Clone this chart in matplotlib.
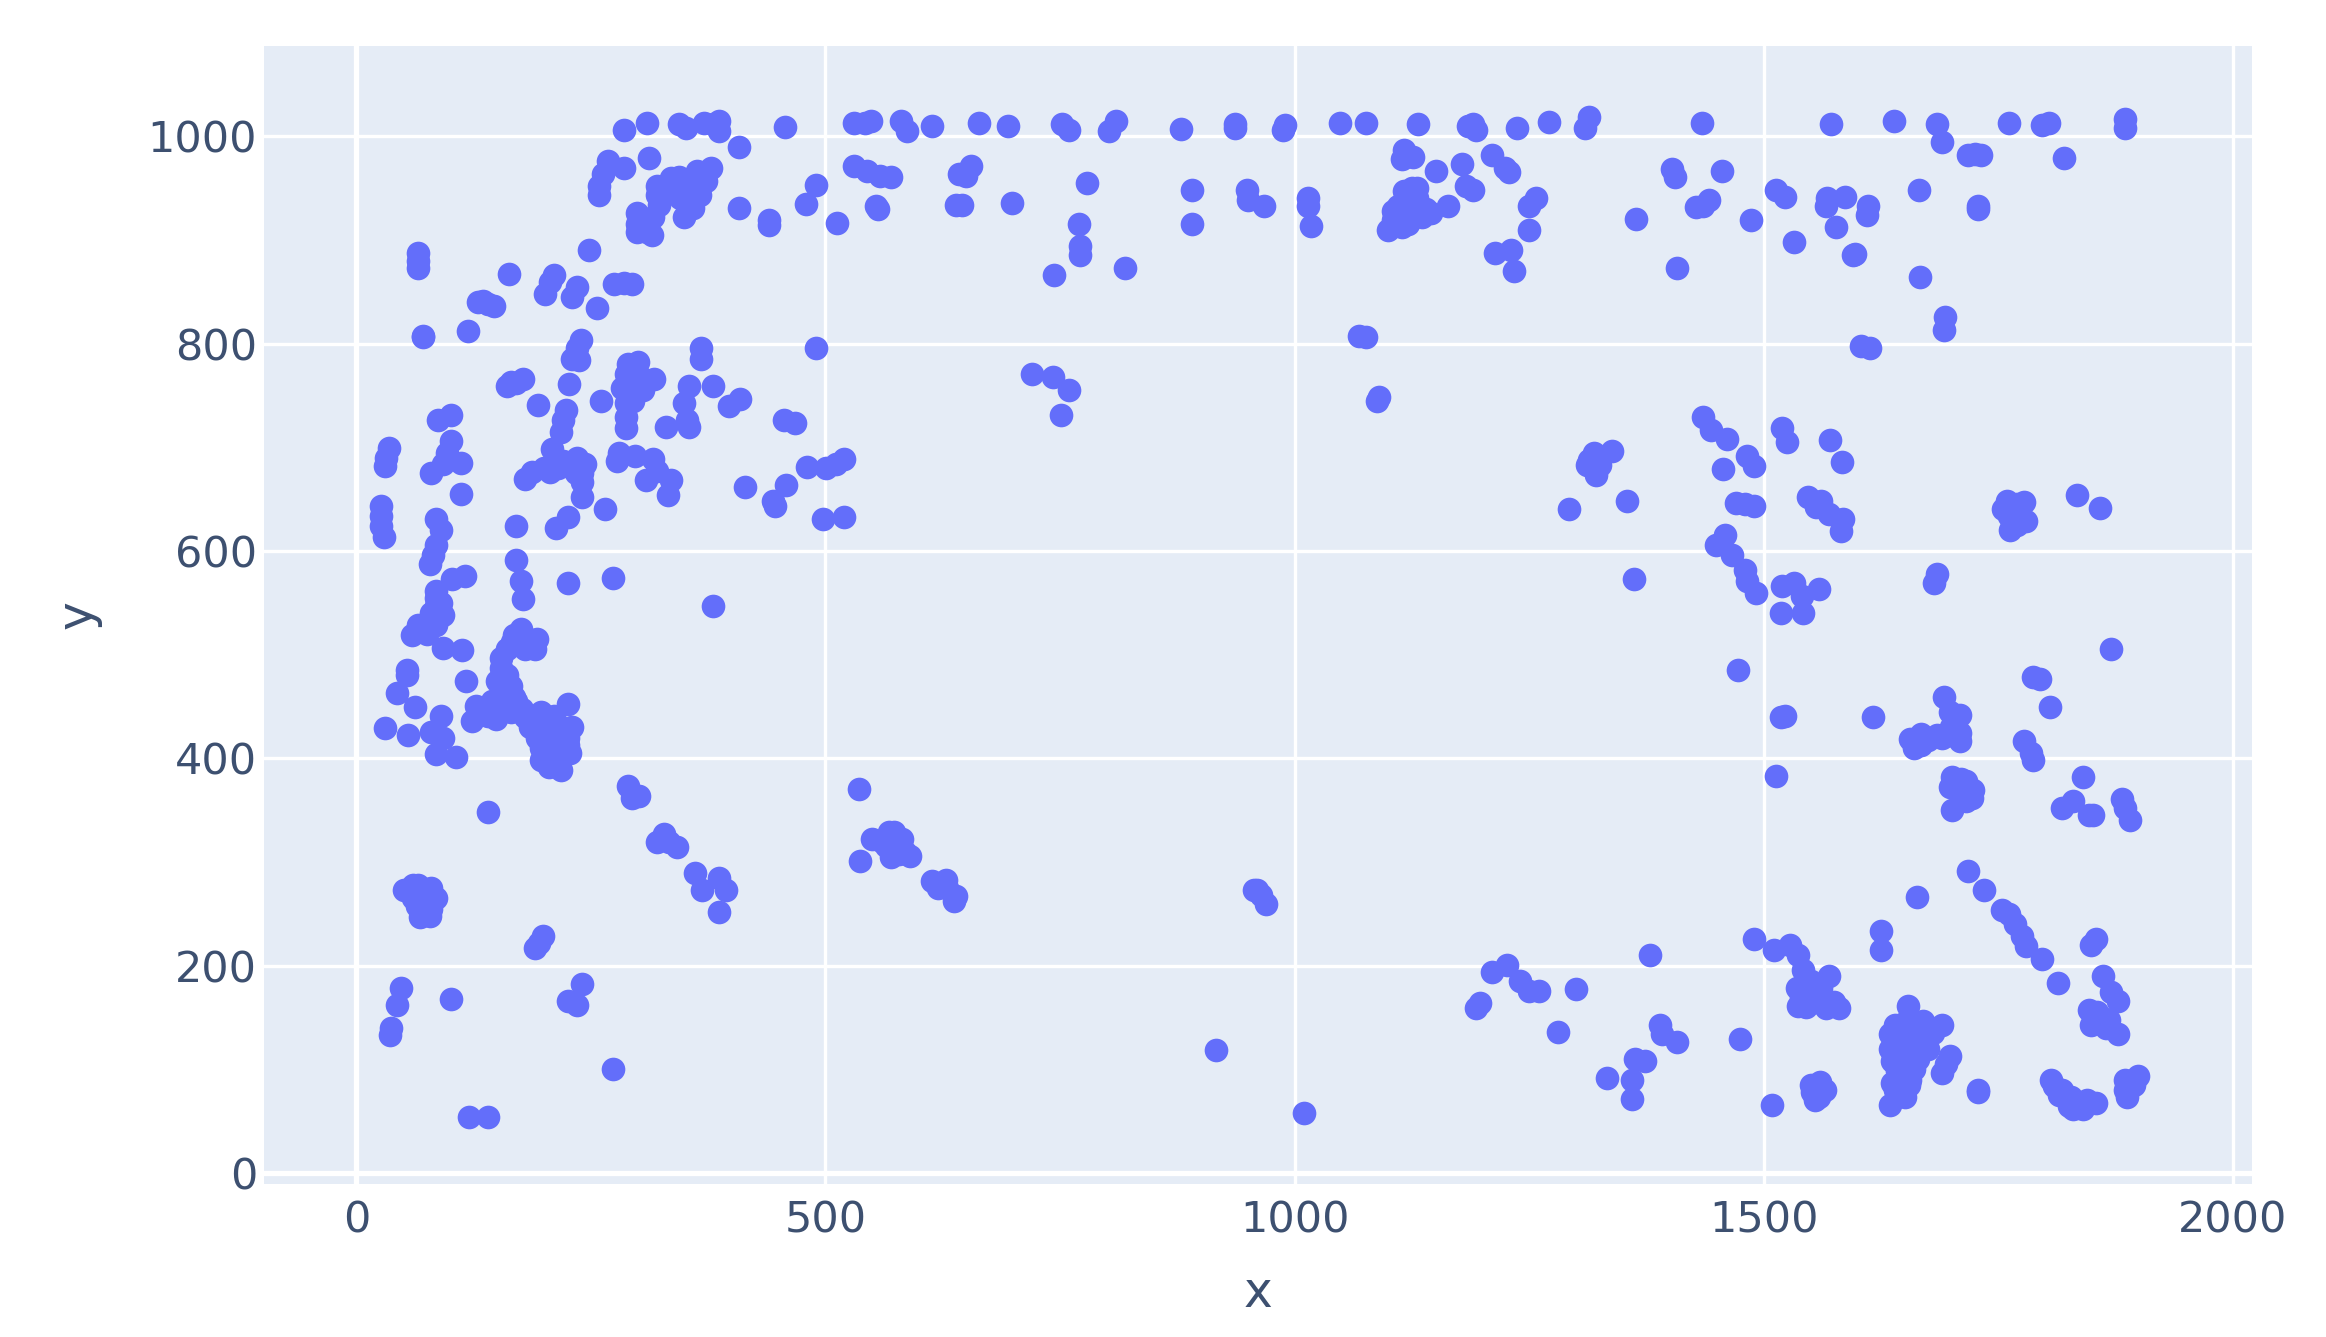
import matplotlib
matplotlib.use('Agg')
import matplotlib.pyplot as plt

# points, in data units, by region
top_row = [(285,1006),(310,1013),(344,1012),(351,1008),(370,1013),(387,1015),(387,1005),(380,1012),(408,990),
	(457,1009),(530,1013),(542,1013),(549,1015),(580,1015),(587,1005),(613,1010),(664,1013),(694,1010),
	(752,1012),(760,1006),(810,1015),(802,1005),(879,1007),(937,1012),(937,1008),(990,1011),(988,1006),
	(1048,1013),(1076,1013),(1132,1012),(1190,1012),(1193,1006),(1185,1010),(1237,1008),(1271,1014),
	(1314,1019),(1310,1008),(1434,1013),(1572,1012),(1639,1015),(1685,1012),(1690,994),(1718,982),(1732,982),
	(1725,983),(1761,1013),(1797,1011),(1804,1013),(1885,1017),(1885,1008),(1820,979)]

upper_left = [(268,976),(285,969),(263,964),(259,952),(259,943),(312,979),(378,969),(363,966),(344,961),
	(320,952),(320,943),(359,954),(373,957),(366,943),(323,934),(349,922),(359,931),(299,926),(299,915),
	(299,908),(315,905),(311,915),(316,922),(408,931),(440,919),(440,914),(490,953),(479,935),(512,916),
	(530,971),(544,966),(558,962),(570,961),(554,933),(556,930),(642,964),(650,962),(655,971),(639,934),(645,934),
	(248,890),(66,887),(66,880),(66,873),(163,867),(211,866),(201,848),(206,859),(235,855),(230,845),(256,834),
	(275,857),(294,857),(285,858),(135,841),(147,836),(140,838),(130,840),(71,807),(71,806),(119,812),
	(239,803),(235,796),(230,785),(237,784),(367,796),(367,785),(490,796),(170,762),(161,759),(178,766),(165,763),
	(227,761),(194,741),(223,736),(220,726),(218,715),(261,745),(300,782),(287,771),(300,771),(317,766),(283,757),
	(300,757),(287,743),(287,729),(287,719),(354,759),(380,759),(349,743),(352,726),(330,720),(354,720),
	(409,747),(397,740),(456,726),(468,723),(101,731),(87,726),(101,706),(97,694),(111,685),(80,675),(92,684),
	(35,699),(30,682),(32,690),(112,655),(26,643),(26,634),(26,624),(29,613),(85,631),(90,620),(85,606),(78,587),(82,596),
	(170,624),(213,622),(225,633),(240,652),(240,666),(244,684),(234,675),(265,640),(209,698),(187,676),(180,669),
	(206,676),(220,687),(230,680),(280,694),(278,687),(297,692),(316,689),(309,668),(320,677),(335,668),(332,654),
	(414,662),(458,664),(444,648),(446,643),(480,681),(501,680),(520,689),(511,684),(497,631),(520,633),
	(170,591),(175,571),(178,554),(225,569),(274,574),(380,547),
	(330,950),(340,955),(350,950),(345,940),(335,960),(305,920),(310,908),(200,680),(215,680),(235,690),(240,675),
	(295,765),(305,755),(295,745),(290,780)]

lower_left = [(116,576),(102,573),(85,561),(85,547),(66,529),(59,519),(78,533),(92,538),(85,529),(92,506),(113,504),
	(54,485),(54,480),(43,463),(62,449),(117,475),(30,429),(55,422),(90,441),(80,425),(92,420),(85,404),(106,401),
	(178,519),(168,519),(192,515),(180,505),(166,512),(154,497),(154,487),(159,471),(168,459),(154,459),
	(128,450),(123,436),(140,441),(149,438),(177,448),(225,452),(197,445),(211,441),(194,431),(211,427),(225,420),
	(197,410),(211,410),(225,413),(197,398),(218,389),(192,420),(216,400),(140,348),(289,373),(294,362),(301,364),
	(328,327),(320,319),(342,314),(333,319),(361,289),(368,273),(387,285),(394,273),(387,252),(536,370),(537,301),
	(573,329),(559,320),(582,322),(590,306),(578,308),(568,329),(613,282),(628,283),(637,262),(639,267),
	(199,229),(190,217),(195,222),(66,278),(51,273),(80,275),(71,264),(80,255),(68,247),(63,271),(101,168),
	(240,182),(225,166),(235,162),(47,178),(43,162),(37,140),(36,133),(274,100),(120,54),(140,54),
	(205,435),(205,420),(205,405),(218,430),(218,410),(190,440),(185,430),(230,430),(228,405),(205,392),(180,440),
	(170,455),(165,445),(172,510),(185,510),(175,525),(160,505),(190,505),(160,480),(150,475),(165,470),(145,455),
	(60,265),(75,270),(85,265),(60,278),(70,255),(78,248),(65,258),(565,315),(580,315),(570,305),(585,310),(550,322),
	(70,525),(80,540),(90,550),(85,555),(75,520),(620,275),(630,275)]

upper_right = [(699,936),(779,955),(770,915),(771,894),(771,885),(744,866),(819,873),(891,948),(891,915),
	(949,948),(950,938),(967,933),(1014,940),(1017,913),(1014,933),(1117,987),(1126,980),(1114,978),(1151,966),
	(1178,973),(1210,982),(1229,965),(1224,969),(1190,948),(1183,952),(1164,933),(1131,950),(1117,947),(1121,933),
	(1110,933),(1105,919),(1100,910),(1121,915),(1136,922),(1145,926),(1131,936),(1114,912),(1257,940),(1250,933),
	(1250,910),(1214,887),(1231,890),(1234,870),(1364,920),(1069,807),(1076,806),(1090,748),(1088,745),
	(720,771),(743,768),(760,755),(751,731),(1319,694),(1312,683),(1338,696),(1321,673),(1314,688),(1326,683),
	(1293,640),(1354,648),(1362,573),(1402,968),(1406,961),(1456,966),(1435,933),(1442,938),(1428,932),(1486,919),
	(1408,873),(1513,948),(1523,941),(1532,898),(1568,940),(1566,933),(1587,941),(1611,933),(1610,924),(1577,912),
	(1597,886),(1595,885),(1666,948),(1728,933),(1728,930),(1667,864),(1693,826),(1692,813),(1604,798),(1613,796),
	(1125,925),(1110,925),(1130,940),(1140,930),(1120,945),(1105,928),(1125,950),(1115,920),(1318,680),(1322,690)]

middle_right = [(1435,729),(1444,717),(1461,708),(1520,719),(1525,705),(1571,707),(1584,686),(1482,692),(1490,682),
	(1457,679),(1470,646),(1490,643),(1480,645),(1547,652),(1561,648),(1570,636),(1585,631),(1582,619),(1556,642),
	(1759,648),(1778,647),(1761,634),(1780,629),(1763,620),(1770,634),(1834,654),(1859,641),(1459,615),(1449,606),
	(1466,596),(1480,582),(1482,571),(1492,559),(1520,566),(1532,569),(1559,563),(1541,557),(1518,540),(1542,540),
	(1685,578),(1682,569),(1473,485),(1870,505),(1787,478),(1794,476),(1805,449),(1692,459),(1699,445),(1709,442),
	(1709,424),(1709,417),(1523,441),(1518,440),(1617,440),(1656,419),(1668,423),(1668,413),(1685,422),(1699,422),
	(1778,417),(1785,405),(1787,398),(1513,383),(1701,382),(1716,378),(1723,369),(1716,359),(1701,350),(1699,372),
	(1840,382),(1818,352),(1830,359),(1847,345),(1851,345),(1882,361),(1885,352),(1890,340),
	(1770,645),(1770,625),(1755,640),(1690,420),(1700,430),(1675,418),(1660,410),(1708,370),(1715,368),(1710,380),(1722,362)]

lower_right = [(1718,291),(1735,273),(1754,254),(1761,250),(1768,240),(1775,229),(1780,219),(1797,206),(1663,266),
	(1625,233),(1625,215),(1814,183),(1849,220),(1854,226),(1862,190),(1870,175),(1878,166),(1847,157),(1854,147),
	(1868,148),(1878,134),(1849,143),(1806,90),(1809,84),(1828,73),(1835,66),(1854,68),(1830,62),(1818,80),
	(1899,94),(1885,90),(1887,73),(1892,84),(1728,80),(1728,78),(1635,66),(1651,73),(1654,161),(1640,143),(1635,134),
	(1656,136),(1670,147),(1690,143),(1675,133),(1642,122),(1661,122),(1637,108),(1656,108),(1670,119),(1637,87),
	(1656,90),(1642,98),(1651,80),(1640,80),(1699,113),(1694,105),(1690,96),(1537,161),(1528,220),(1511,215),(1490,226),
	(1537,210),(1542,196),(1547,182),(1535,178),(1551,171),(1570,190),(1561,178),(1566,159),(1580,159),(1475,129),
	(1390,143),(1392,134),(1408,126),(1363,110),(1374,108),(1360,90),(1360,71),(1333,92),(1509,66),(1559,83),(1559,73),(1552,78),
	(1210,194),(1226,201),(1240,185),(1250,176),(1260,176),(1198,164),(1193,159),(1300,177),(1281,136),(1379,210),
	(916,119),(1010,58),(960,273),(969,259),(964,268),(957,273),
	(1648,130),(1648,115),(1648,100),(1660,130),(1660,100),(1645,90),(1665,110),(1675,120),(1650,145),(1665,140),
	(1680,135),(1635,120),(1640,105),(1655,85),(1555,70),(1565,80),(1560,88),(1550,85),(1540,170),(1550,185),
	(1555,165),(1545,160),(1575,165),(1855,155),(1865,140),(1860,150),(1840,62),(1845,70),(1825,65),(1815,75),
	(1895,85),(1885,80)]

regions = [top_row, upper_left, lower_left, upper_right, middle_right, lower_right]
x_ticks = [0, 500, 1000, 1500, 2000]
y_ticks = [0, 200, 400, 600, 800, 1000]

W, H = 2326, 1337
fig = plt.figure(figsize=(W / 100, H / 100), dpi=100)
ax = fig.add_axes([264 / W, 1 - 1184 / H, (2252 - 264) / W, (1184 - 46) / H])
ax.set_facecolor('#E5ECF6')
for side in ax.spines.values():
	side.set_visible(False)

ax.set_xlim(-98.5, 2020.5)
ax.set_ylim(-10.6, 1087)
ax.set_xticks(x_ticks)
ax.set_yticks(y_ticks)
ax.grid(True, color='white', linewidth=2.4)
ax.set_axisbelow(True)
ax.axvline(0, color='white', linewidth=3.8, zorder=1)
ax.axhline(0, color='white', linewidth=3.8, zorder=1)
ax.tick_params(length=0, labelsize=31, labelcolor='#3d5070', pad=5)
ax.tick_params(axis='x', pad=11)

for region in regions:
	xs = [p[0] for p in region]
	ys = [p[1] for p in region]
	ax.scatter(xs, ys, s=290, color='#636EFA', linewidths=0, zorder=3)

ax.set_xlabel('x', fontsize=35, color='#3d5070', labelpad=20)
ax.set_ylabel('y', fontsize=35, color='#3d5070', labelpad=33)

fig.savefig('out.png', dpi=100)
